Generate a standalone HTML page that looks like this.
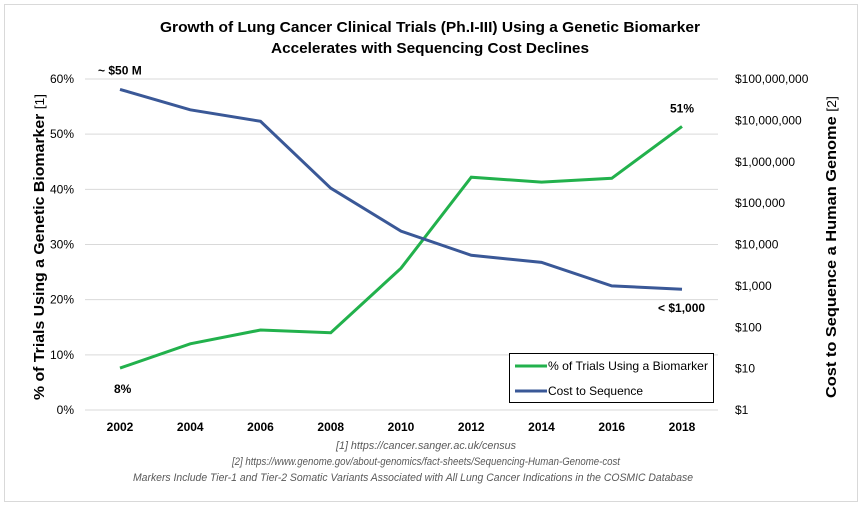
<!DOCTYPE html>
<html><head><meta charset="utf-8"><style>
body{margin:0;background:#fff}
svg{display:block;font-family:"Liberation Sans",sans-serif}
</style></head><body>
<svg id="c" width="863" height="508" viewBox="0 0 863 508">
<rect x="4.5" y="4.5" width="853" height="497" fill="#fff" stroke="#d9d9d9"/>
<text x="430" y="32" text-anchor="middle" font-weight="bold" font-size="15" textLength="540" lengthAdjust="spacingAndGlyphs">Growth of Lung Cancer Clinical Trials (Ph.I-III) Using a Genetic Biomarker</text>
<text x="430" y="53" text-anchor="middle" font-weight="bold" font-size="15" textLength="318" lengthAdjust="spacingAndGlyphs">Accelerates with Sequencing Cost Declines</text>
<g id="grid"></g><g id="axes"></g><g id="lines"></g>
<text transform="translate(44,247) rotate(-90)" text-anchor="middle" font-size="15" font-weight="bold" textLength="306" lengthAdjust="spacingAndGlyphs">% of Trials Using a Genetic Biomarker <tspan font-weight="normal" font-size="13">[1]</tspan></text>
<text transform="translate(836,247) rotate(-90)" text-anchor="middle" font-size="15" font-weight="bold" textLength="302" lengthAdjust="spacingAndGlyphs">Cost to Sequence a Human Genome <tspan font-weight="normal" font-size="13">[2]</tspan></text>
<g font-style="italic" font-size="11" fill="#595959" text-anchor="middle">
<text x="426" y="449" textLength="180" lengthAdjust="spacingAndGlyphs">[1] https://cancer.sanger.ac.uk/census</text>
<text x="426" y="465" textLength="388" lengthAdjust="spacingAndGlyphs">[2] https://www.genome.gov/about-genomics/fact-sheets/Sequencing-Human-Genome-cost</text>
<text x="413" y="481" textLength="560" lengthAdjust="spacingAndGlyphs">Markers Include Tier-1 and Tier-2 Somatic Variants Associated with All Lung Cancer Indications in the COSMIC Database</text>
</g>
<g>
<rect x="509.5" y="353.5" width="204" height="49" fill="#fff" stroke="#000"/>
<line x1="515" y1="366" x2="547" y2="366" stroke="#22b14c" stroke-width="3"/>
<text x="548" y="370" font-size="12" textLength="160" lengthAdjust="spacingAndGlyphs">% of Trials Using a Biomarker</text>
<line x1="515" y1="391" x2="547" y2="391" stroke="#3a5897" stroke-width="3"/>
<text x="548" y="395" font-size="12" textLength="95" lengthAdjust="spacingAndGlyphs">Cost to Sequence</text>
</g>
</svg>
<script>
const years=[2002,2004,2006,2008,2010,2012,2014,2016,2018];
const pctTrials=[7.6,12.0,14.5,14.0,25.7,42.2,41.3,42.0,51.4];
const costSeq=[5.6e7,1.8e7,9.5e6,2.3e5,2.1e4,5500,3700,1000,830];
const leftTicks=[0,10,20,30,40,50,60];
const rightTicks=[1,10,100,1000,1e4,1e5,1e6,1e7,1e8];
const NS='http://www.w3.org/2000/svg';
const x=y=>120+(y-2002)/16*562;
const yL=v=>410-v/60*331;
const yR=v=>410-Math.log10(v)/8*331;
function mk(t,a,p){const e=document.createElementNS(NS,t);for(const k in a)e.setAttribute(k,a[k]);p.appendChild(e);return e;}
const grid=document.getElementById('grid'),axes=document.getElementById('axes'),lines=document.getElementById('lines');
leftTicks.forEach(v=>{
 const l=mk('line',{x1:85,x2:718,y1:yL(v),y2:yL(v),stroke:'#d9d9d9'},grid);
 
 
 const t=mk('text',{x:74,y:yL(v)+4,'text-anchor':'end','font-size':12},axes);t.textContent=v+'%';
 
 
});
rightTicks.forEach(v=>{
 const t=mk('text',{x:735,y:yR(v)+4,'font-size':12},axes);t.textContent='$'+v.toLocaleString('en-US');
 
 
});
years.forEach(y=>{
 const t=mk('text',{x:x(y),y:431,'text-anchor':'middle','font-size':12,'font-weight':'bold'},axes);t.textContent=y;
 
 
});
const g=mk('polyline',{points:years.map((y,i)=>x(y)+','+yL(pctTrials[i])).join(' '),fill:'none',stroke:'#22b14c','stroke-width':3},lines);


const b=mk('polyline',{points:years.map((y,i)=>x(y)+','+yR(costSeq[i])).join(' '),fill:'none',stroke:'#3a5897','stroke-width':3},lines);


const labs=[[x(2002)-6,yL(pctTrials[0])+25,'8%','label-8pct'],[x(2018)-12,yL(pctTrials[8])-14,'51%','label-51pct'],[x(2002)-22,yR(costSeq[0])-15,'~ $50 M','label-50m'],[x(2018)-24,yR(costSeq[8])+23,'< $1,000','label-1000']];
labs.forEach(a=>{
 const t=mk('text',{x:a[0],y:a[1],'font-size':12,'font-weight':'bold'},lines);t.textContent=a[2];
 
 
});
</script>
</body></html>
